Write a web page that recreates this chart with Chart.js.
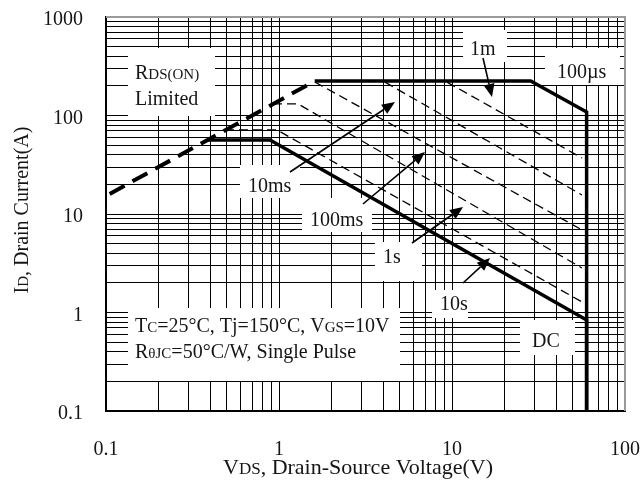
<!DOCTYPE html>
<html>
<head>
<meta charset="utf-8">
<script src="https://cdn.jsdelivr.net/npm/chart.js@4/dist/chart.umd.min.js"></script>
<style>
  html, body { margin: 0; padding: 0; background: #fff; }
</style>
</head>
<body>
<canvas id="canvas" width="644" height="483"></canvas>
<script>
// Safe operating area: drain current (A) vs drain-source voltage (V)
const rdsV = [0.105, 1.61];
const rdsI = [16, 224];
const us100V = [1.61, 28.5, 60, 60];
const us100I = [224, 224, 108.5, 0.1];
const ms1V = [9.35, 56.4];
const ms1I = [218, 37];
const ms10V = [4.1, 56.4];
const ms10I = [218, 15.6];
const ms100V = [1.61, 56.4];
const ms100I = [219, 6.9];
const s1V = [0.923, 1.288, 56.4];
const s1I = [131, 131, 2.83];
const s10V = [0.4875, 0.974, 56.4];
const s10I = [71.3, 71.3, 1.28];
const dcV = [0.384, 0.887, 60, 60];
const dcI = [56.4, 56.4, 0.84, 0.1];

const xRange = [0.1, 100];
const yRange = [0.1, 1000];

// text notes: white box [x0, x1, y0, y1] and first baseline, in volts / amps
const notes = [
  { box: [0.134, 0.4266, 484.5, 98.8], at: [0.1471, 234.8],
    lines: [[['R', 0], ['DS(ON)', 1]], [['Limited', 0]]] },
  { box: [11.58, 20.79, 738, 349.2], at: [12.71, 411.4], lines: [[['1m', 0]]] },
  { box: [34.47, 93.6, 484.5, 204], at: [40.45, 240.3], lines: [[['100\u00b5s', 0]]] },
  { box: [0.5951, 1.322, 31.44, 14.54], at: [0.6619, 16.73], lines: [[['10ms', 0]]] },
  { box: [1.358, 3.447, 14.54, 6.567], at: [1.511, 7.555], lines: [[['100ms', 0]]] },
  { box: [3.587, 6.709, 5.196, 2.088], at: [3.992, 3.181], lines: [[['1s', 0]]] },
  { box: [7.663, 12.38, 1.692, 0.8794], at: [8.523, 1.06], lines: [[['10s', 0]]] },
  { box: [24.73, 51.4, 0.8391, 0.3703], at: [29.0, 0.4464], lines: [[['DC', 0]]] },
  { box: [0.134, 5.005, 1.111, 0.2016], at: [0.1471, 0.6339],
    lines: [[['T', 0], ['C', 1], ['=25\u00b0C, Tj=150\u00b0C, V', 0], ['GS', 1], ['=10V', 0]],
            [['R', 0], ['\u03b8JC', 1], ['=50\u00b0C/W, Single Pulse', 0]]] }
];

// pointer arrows: [fromV, fromI, tipV, tipI]
const arrows = [
  [15.11, 383.6, 17.03, 154.1],
  [1.158, 26.69, 4.682, 137.1],
  [3.059, 12.63, 6.981, 42.6],
  [5.872, 5.077, 11.58, 11.78],
  [11.58, 1.993, 16.59, 3.576]
];

const FONT = '"Liberation Serif"';
const INK = '#151515';

function pts(v, i) {
  return v.map((x, k) => ({ x: x, y: i[k] }));
}

function logTicks(scale) {
  const out = [];
  for (let d = Math.log10(scale.min); d < Math.log10(scale.max) + 0.5; d++) {
    for (let k = 1; k <= 9; k++) {
      const v = +(k * Math.pow(10, d)).toPrecision(6);
      if (v >= scale.min - 1e-9 && v <= scale.max + 1e-9) out.push({ value: v });
      if (d >= Math.log10(scale.max) - 1e-9) break;
    }
  }
  scale.ticks = out;
}

function decadeLabel(value) {
  const l = Math.log10(value);
  return Math.abs(l - Math.round(l)) < 1e-6 ? String(value) : '';
}

// keep the edge labels from shrinking the plot area
function noEdgePadding(s) {
  s.paddingLeft = s.paddingRight = s.paddingTop = s.paddingBottom = 0;
}

// segments are [text, isSubscript]
function drawRich(ctx, segs, x, y, size) {
  segs.forEach(([t, small]) => {
    ctx.font = (small ? Math.round(size * 0.75) : size) + 'px ' + FONT;
    ctx.fillText(t, x, y);
    x += ctx.measureText(t).width;
  });
  return x;
}

function richWidth(ctx, segs, size) {
  let w = 0;
  segs.forEach(([t, small]) => {
    ctx.font = (small ? Math.round(size * 0.75) : size) + 'px ' + FONT;
    w += ctx.measureText(t).width;
  });
  return w;
}

const notesPlugin = {
  id: 'notes',
  beforeDatasetsDraw(chart) {
    const { ctx, scales: { x, y } } = chart;
    ctx.save();
    ctx.fillStyle = '#fff';
    notes.forEach(n => {
      const x0 = x.getPixelForValue(n.box[0]), x1 = x.getPixelForValue(n.box[1]);
      const y0 = y.getPixelForValue(n.box[2]), y1 = y.getPixelForValue(n.box[3]);
      ctx.fillRect(x0, y0, x1 - x0, y1 - y0);
    });
    ctx.restore();
  },
  afterDatasetsDraw(chart) {
    const { ctx, scales: { x, y }, chartArea: a } = chart;
    ctx.save();
    // frame on the top and right edges
    ctx.strokeStyle = '#9a9a9a';
    ctx.lineWidth = 2;
    ctx.beginPath();
    ctx.moveTo(a.left, a.top);
    ctx.lineTo(a.right, a.top);
    ctx.lineTo(a.right, a.bottom);
    ctx.stroke();

    ctx.fillStyle = INK;
    ctx.textBaseline = 'alphabetic';
    notes.forEach(n => {
      const tx = x.getPixelForValue(n.at[0]);
      let ty = y.getPixelForValue(n.at[1]);
      n.lines.forEach(line => {
        drawRich(ctx, line, tx, ty, 20);
        ty += 26;
      });
    });

    ctx.strokeStyle = '#000';
    ctx.fillStyle = '#000';
    ctx.lineWidth = 1.6;
    arrows.forEach(([v0, i0, v1, i1]) => {
      const x0 = x.getPixelForValue(v0), y0 = y.getPixelForValue(i0);
      const x1 = x.getPixelForValue(v1), y1 = y.getPixelForValue(i1);
      const ang = Math.atan2(y1 - y0, x1 - x0);
      const len = 13, half = 5.5;
      const bx = x1 - len * Math.cos(ang), by = y1 - len * Math.sin(ang);
      ctx.beginPath();
      ctx.moveTo(x0, y0);
      ctx.lineTo(bx, by);
      ctx.stroke();
      ctx.beginPath();
      ctx.moveTo(x1, y1);
      ctx.lineTo(bx + half * Math.sin(ang), by - half * Math.cos(ang));
      ctx.lineTo(bx - half * Math.sin(ang), by + half * Math.cos(ang));
      ctx.closePath();
      ctx.fill();
    });
    ctx.restore();
  },
  afterDraw(chart) {
    const ctx = chart.ctx;
    ctx.save();
    ctx.fillStyle = INK;
    ctx.textBaseline = 'alphabetic';
    const xt = [['V', 0], ['DS', 1], [', Drain-Source Voltage(V)', 0]];
    drawRich(ctx, xt, 358 - richWidth(ctx, xt, 22) / 2, 474, 22);
    const yt = [['I', 0], ['D', 1], [', Drain Current(A)', 0]];
    ctx.translate(28, 210);
    ctx.rotate(-Math.PI / 2);
    drawRich(ctx, yt, -richWidth(ctx, yt, 20) / 2, 0, 20);
    ctx.restore();
  }
};

function line(data, width, dash, order) {
  return {
    data: data,
    showLine: true,
    borderColor: '#000',
    borderWidth: width,
    borderDash: dash,
    pointRadius: 0,
    tension: 0,
    fill: false,
    order: order
  };
}

const canvas = document.getElementById('canvas');
const chart = new Chart(canvas, {
  type: 'scatter',
  data: {
    datasets: [
      line(pts(rdsV, rdsI), 4, [17, 9], 1),
      line(pts(us100V, us100I), 3.5, [], 0),
      line(pts(dcV, dcI), 3.5, [], 0),
      line(pts(ms1V, ms1I), 1.3, [9, 5], 2),
      line(pts(ms10V, ms10I), 1.3, [9, 5], 2),
      line(pts(ms100V, ms100I), 1.3, [9, 5], 2),
      line(pts(s1V, s1I), 1.3, [9, 5], 2),
      line(pts(s10V, s10I), 1.3, [9, 5], 2)
    ]
  },
  options: {
    responsive: false,
    animation: false,
    layout: { padding: { top: 17, right: 19, left: 0, bottom: 0 } },
    plugins: { legend: { display: false }, tooltip: { enabled: false } },
    scales: {
      x: {
        type: 'logarithmic',
        min: xRange[0],
        max: xRange[1],
        afterBuildTicks: logTicks,
        afterFit: s => { s.height = 72; noEdgePadding(s); },
        grid: { color: '#000', lineWidth: 1, drawTicks: false },
        border: { color: '#000', width: 2 },
        ticks: {
          autoSkip: false, maxRotation: 0, padding: 27,
          color: INK, font: { family: 'Liberation Serif', size: 20 },
          callback: decadeLabel
        }
      },
      y: {
        type: 'logarithmic',
        min: yRange[0],
        max: yRange[1],
        afterBuildTicks: logTicks,
        afterFit: s => { s.width = 106; noEdgePadding(s); },
        grid: { color: '#000', lineWidth: 1, drawTicks: false },
        border: { color: '#000', width: 2 },
        ticks: {
          autoSkip: false, padding: 23, labelOffset: 3,
          color: INK, font: { family: 'Liberation Serif', size: 20 },
          callback: decadeLabel
        }
      }
    }
  },
  plugins: [notesPlugin]
});
</script>
</body>
</html>
